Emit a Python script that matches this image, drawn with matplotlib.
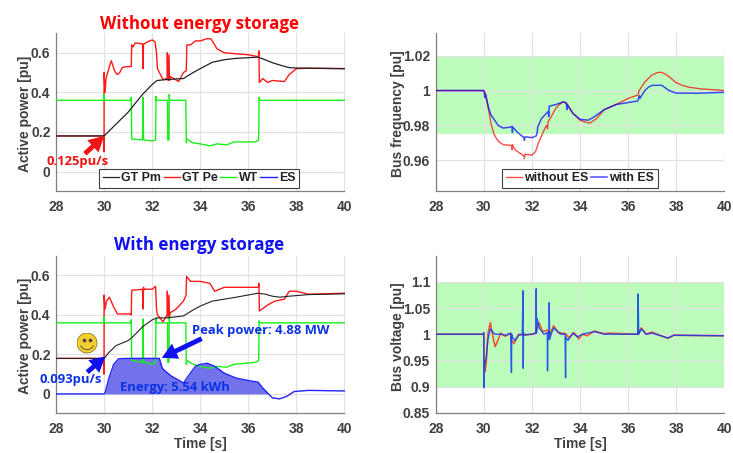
import matplotlib
matplotlib.use("Agg")
import matplotlib.pyplot as plt
from matplotlib.patches import Circle, Arc

W, H = 733, 453
TICK_FONT = "Liberation Sans"
ANN_FONT = "Open Sans"
GRAY = "#404040"

# ---- data: without energy storage (active power) ----
t_pm1 = [28, 30, 30.5, 31, 31.2, 31.6, 32, 32.2, 32.6, 33.3, 33.7, 34, 34.5, 35, 35.5, 36.4, 36.7, 37, 37.4, 37.7, 38, 40]
pm1 = [.18, .18, .24, .30, .33, .39, .44, .46, .465, .47, .50, .52, .552, .565, .572, .578, .565, .55, .535, .525, .523, .52]
t_pe1 = [28, 29.97, 30.0, 30.0, 30.0, 30.04, 30.08, 30.15, 30.22, 30.3, 30.38, 30.45, 30.55, 30.65, 30.75, 30.9, 31.13, 31.15, 31.2, 31.3, 31.6, 31.62, 31.64, 31.66, 31.8, 32, 32.12, 32.18, 32.22, 32.3, 32.45, 32.62, 32.63, 32.66, 32.7, 32.72, 32.74, 32.9, 33.1, 33.3, 33.42, 33.44, 33.6, 33.8, 34, 34.3, 34.45, 34.7, 35, 35.5, 36, 36.42, 36.44, 36.46, 36.6, 36.8, 37, 37.5, 37.7, 38, 38.5, 40]
pe1 = [.18, .18, .10, .36, .50, .40, .47, .50, .53, .56, .53, .505, .49, .50, .525, .53, .53, .64, .63, .65, .645, .52, .64, .645, .655, .665, .655, .60, .52, .50, .465, .47, .60, .46, .59, .46, .48, .47, .455, .50, .51, .64, .64, .66, .66, .672, .67, .62, .60, .595, .59, .58, .61, .45, .47, .45, .46, .455, .49, .52, .522, .52]
t_wt1 = [28, 29.98, 30.0, 30.02, 31.12, 31.13, 31.15, 31.6, 31.62, 31.64, 31.66, 32.0, 32.14, 32.16, 32.18, 32.64, 32.65, 32.68, 32.7, 32.71, 32.73, 33.4, 33.42, 33.44, 33.7, 34, 34.4, 34.7, 35.1, 35.4, 36.3, 36.43, 36.45, 36.47, 36.6, 40]
wt1 = [.36, .36, .39, .36, .36, .375, .165, .16, .375, .17, .16, .155, .16, .38, .36, .36, .16, .16, .16, .39, .36, .36, .145, .165, .145, .14, .13, .14, .135, .15, .15, .16, .375, .36, .36, .36]

# ---- data: with energy storage (active power) ----
t_pm2 = [28, 30, 30.2, 30.5, 31, 31.2, 31.6, 32, 32.2, 32.6, 33.3, 33.7, 34, 34.5, 35, 35.5, 36.4, 36.7, 37, 37.3, 37.7, 38.5, 40]
pm2 = [.18, .18, .21, .245, .27, .29, .34, .375, .385, .385, .395, .425, .445, .47, .48, .49, .51, .505, .495, .49, .495, .503, .507]
t_pe2 = [28, 29.97, 30.0, 30.0, 30.0, 30.04, 30.1, 30.22, 30.4, 30.55, 31.1, 31.13, 31.15, 31.6, 31.62, 31.64, 31.66, 32.0, 32.14, 32.18, 32.22, 32.45, 32.62, 32.63, 32.66, 32.7, 32.72, 32.74, 33.0, 33.3, 33.41, 33.43, 33.6, 34, 34.4, 34.6, 35, 36, 36.42, 36.44, 36.46, 36.8, 37.1, 37.5, 37.7, 38, 38.5, 40]
pe2 = [.18, .18, .10, .40, .50, .43, .47, .49, .44, .405, .405, .40, .525, .53, .43, .54, .53, .53, .545, .43, .40, .365, .40, .52, .39, .50, .39, .41, .43, .47, .50, .595, .57, .57, .56, .52, .54, .54, .54, .56, .42, .45, .47, .48, .52, .52, .505, .51]
t_wt2 = [28, 29.98, 30.0, 30.02, 31.12, 31.13, 31.15, 31.6, 31.62, 31.64, 31.66, 32.0, 32.14, 32.16, 32.18, 32.64, 32.65, 32.68, 32.7, 32.71, 32.73, 33.4, 33.42, 33.44, 33.7, 34, 34.4, 34.7, 35.1, 35.4, 36.3, 36.43, 36.45, 36.47, 36.6, 40]
wt2 = [.36, .36, .39, .36, .36, .375, .17, .16, .38, .17, .16, .15, .16, .385, .36, .36, .16, .16, .16, .39, .36, .36, .15, .17, .15, .14, .13, .14, .135, .15, .16, .17, .37, .36, .36, .36]
t_es = [28, 30, 30.05, 30.2, 30.4, 30.6, 31, 32.3, 32.42, 32.55, 32.8, 33.1, 33.3, 33.5, 33.8, 34.0, 34.3, 34.6, 35, 35.5, 36, 36.4, 36.6, 36.8, 37, 37.3, 37.6, 37.9, 38.5, 40]
es = [0, 0, .01, .08, .15, .178, .18, .18, .13, .115, .09, .07, .055, .09, .14, .15, .155, .14, .105, .08, .068, .06, .03, .005, -.02, -.025, -.012, .012, .018, .015]

# ---- data: bus frequency ----
t_f1 = [28, 30, 30.05, 30.2, 30.3, 30.4, 30.5, 30.6, 30.8, 31.15, 31.17, 31.19, 31.3, 31.67, 31.69, 31.71, 32, 32.15, 32.3, 32.6, 32.65, 32.67, 32.8, 33, 33.15, 33.3, 33.45, 33.7, 34, 34.2, 34.4, 34.7, 35, 35.5, 36, 36.42, 36.44, 36.46, 36.7, 36.85, 37, 37.2, 37.35, 37.5, 37.7, 38, 38.25, 38.5, 39, 40]
f1 = [1, 1, .999, .989, .981, .976, .973, .971, .969, .9685, .966, .969, .966, .9625, .961, .9635, .963, .965, .971, .98, .978, .982, .985, .99, .992, .9935, .9925, .987, .983, .982, .9813, .984, .989, .992, .9955, .9975, .999, 1.0, 1.005, 1.007, 1.009, 1.0102, 1.0105, 1.0098, 1.008, 1.0045, 1.003, 1.002, 1.001, 1.0]
t_f2 = [28, 30, 30.05, 30.07, 30.2, 30.3, 30.4, 30.6, 30.8, 31.1, 31.17, 31.19, 31.21, 31.4, 31.67, 31.69, 31.71, 32, 32.18, 32.22, 32.24, 32.4, 32.68, 32.7, 32.72, 33, 33.3, 33.43, 33.45, 33.47, 33.7, 34, 34.35, 34.6, 35, 35.5, 36.4, 36.47, 36.49, 36.7, 36.85, 37, 37.4, 37.7, 38, 39, 40]
f2 = [1, 1, .996, .998, .99, .986, .984, .98, .9785, .979, .9795, .976, .979, .976, .973, .9715, .9735, .973, .974, .976, .979, .984, .988, .985, .991, .992, .9935, .993, .989, .992, .987, .9835, .983, .985, .989, .992, .994, .997, .9955, 1.0, 1.002, 1.003, 1.003, 1.0, .9985, .9985, .999]

# ---- data: bus voltage ----
t_v1 = [28, 30, 30.02, 30.05, 30.1, 30.17, 30.27, 30.4, 30.47, 30.6, 30.7, 30.9, 31.1, 31.15, 31.25, 31.45, 31.65, 32, 32.15, 32.3, 32.45, 32.65, 32.75, 32.9, 33.1, 33.4, 33.55, 33.75, 33.95, 34.1, 34.3, 34.6, 35, 35.2, 36.4, 36.55, 36.75, 37, 37.2, 37.65, 37.9, 40]
v1 = [1, 1, .94, .928, .945, 1.0, 1.022, .99, .976, .99, 1.002, .996, 1.002, .99, .982, 1.0, .998, 1.0, 1.002, 1.022, 1.005, 1.008, 1.0, 1.016, 1.003, 1.001, .993, 1.003, .991, 1.0, .997, 1.006, 1.001, 1.002, 1.0, 1.012, 1.0, 1.004, 1.0, .992, .998, .997]
t_v2 = [28, 29.98, 30.0, 30.0, 30.03, 30.1, 30.17, 30.27, 30.45, 30.7, 30.9, 31.12, 31.15, 31.16, 31.18, 31.3, 31.45, 31.6, 31.63, 31.64, 31.65, 31.7, 32, 32.17, 32.18, 32.19, 32.22, 32.3, 32.5, 32.64, 32.65, 32.66, 32.71, 32.72, 32.74, 32.8, 32.9, 33.2, 33.38, 33.4, 33.41, 33.5, 33.7, 33.9, 34.1, 34.6, 35, 36.4, 36.42, 36.44, 36.46, 36.55, 36.75, 37, 37.65, 37.9, 40]
v2 = [1, 1, 1.003, .898, .94, .955, .99, 1.01, 1.0, 1.0, .998, 1.002, .927, 1.0, .995, .988, .998, 1.0, 1.083, .935, 1.002, .999, 1.0, 1.002, 1.087, 1.002, 1.03, 1.012, 1.0, 1.003, .93, 1.004, .99, 1.06, .99, 1.0, 1.012, 1.0, 1.0, .917, .995, .988, 1.002, .995, 1.0, 1.005, 1.0, 1.0, 1.077, 1.0, 1.002, 1.01, 1.0, 1.002, .993, .998, .997]

# ---- ticks and labels ----
x_ticks = [28, 30, 32, 34, 36, 38, 40]
p_ticks = [0, .2, .4, .6]
p_labels = ["0", "0.2", "0.4", "0.6"]
f_ticks = [.96, .98, 1, 1.02]
f_labels = ["0.96", "0.98", "1", "1.02"]
v_ticks = [.85, .9, .95, 1, 1.05, 1.1]
v_labels = ["0.85", "0.9", "0.95", "1", "1.05", "1.1"]

BLACK, RED, GREEN, BLUE = "#222222", "#ff1a1a", "#19f019", "#2222ff"
BAND = "#bcfdbc"
TRED, TBLUE = "#f01010", "#0a32e6"


def make_axes(left, right, top, bottom, ylim, ticks, labels, ylabel, ylabel_px, xlabel=None):
    ax = fig.add_axes([left / W, 1 - bottom / H, (right - left) / W, (bottom - top) / H])
    ax.set_xlim(28, 40)
    ax.set_ylim(*ylim)
    ax.set_xticks(x_ticks)
    ax.set_yticks(ticks)
    ax.set_yticklabels(labels)
    ax.grid(True, color="#e2e2e2", lw=0.9)
    ax.set_axisbelow(True)
    for s in ("top", "right"):
        ax.spines[s].set_visible(False)
    for s in ("left", "bottom"):
        ax.spines[s].set_color("#808080")
        ax.spines[s].set_linewidth(0.9)
    ax.tick_params(length=0, labelsize=10, labelcolor=GRAY)
    ax.tick_params(axis="x", pad=6.5)
    ax.tick_params(axis="y", pad=4)
    for lab in ax.get_xticklabels() + ax.get_yticklabels():
        lab.set_fontfamily(TICK_FONT)
        lab.set_fontweight("bold")
    ax.set_ylabel(ylabel, fontfamily=TICK_FONT, fontweight="bold", fontsize=10, color=GRAY, va="center")
    ax.yaxis.set_label_coords((ylabel_px + 2 - left) / (right - left), .5 + (-2 / (bottom - top)))
    if xlabel:
        ax.set_xlabel(xlabel, fontfamily=TICK_FONT, fontweight="bold", fontsize=10, color=GRAY, va="center")
        ax.xaxis.set_label_coords(.5, -(444 - bottom) / (bottom - top))
    return ax


def fat_arrow(ax, tail, tip, color):
    ax.annotate("", xy=tip, xytext=tail, zorder=6,
                arrowprops=dict(facecolor=color, edgecolor=color, width=3.5, headwidth=12,
                                headlength=11, shrink=0, lw=0))


def label(ax, x, y, s, color):
    ax.text(x, y, s, color=color, fontfamily=ANN_FONT, fontweight="bold", fontsize=9.4,
            ha="center", va="center", zorder=7)


def legend(ax, ncol, x_center, spacing):
    leg = ax.legend(loc="lower center", bbox_to_anchor=(x_center, 0.019), ncol=ncol, frameon=True, fancybox=False,
                    edgecolor="#404040", framealpha=1, borderpad=0.3, handlelength=1.3,
                    handletextpad=0.2, columnspacing=spacing, borderaxespad=0,
                    prop=dict(family=TICK_FONT, weight="bold", size=8.9))
    leg.get_frame().set_linewidth(0.8)
    for t in leg.get_texts():
        t.set_color("#222222")


fig = plt.figure(figsize=(W / 100, H / 100), dpi=100)

# top left
ax = make_axes(56, 344.5, 33, 191, (-.098, .7), p_ticks, p_labels, "Active power [pu]", 23)
ax.plot(t_pm1, pm1, color=BLACK, lw=0.9, label="GT Pm", zorder=4)
ax.plot(t_pe1, pe1, color=RED, lw=1.0, label="GT Pe", zorder=3)
ax.plot(t_wt1, wt1, color=GREEN, lw=1.0, label="WT", zorder=3)
ax.plot([], [], color=BLUE, lw=1.0, label="ES")
fat_arrow(ax, (29.2, .09), (30, .18), "#f01515")
label(ax, 28.9, .05, "0.125pu/s", TRED)
legend(ax, 4, .496, 0.2)
ax.text(.497, 1.0, "Without energy storage", transform=ax.transAxes, color="#ff0000",
        fontfamily=ANN_FONT, fontweight="bold", fontsize=12.2, ha="center", va="bottom")

# top right
ax = make_axes(435.7, 724.3, 33, 191, (.9424, 1.033), f_ticks, f_labels, "Bus frequency [pu]", 396)
ax.axhspan(.975, 1.02, color=BAND, lw=0, zorder=0.5)
ax.plot(t_f1, f1, color="#ff0000", alpha=.7, lw=1.0, label="without ES", zorder=3)
ax.plot(t_f2, f2, color="#0000ff", alpha=.7, lw=1.1, label="with ES", zorder=4)
legend(ax, 2, .5, 0.2)

# bottom left
ax = make_axes(56, 344.5, 255.7, 412.7, (-.095, .7), p_ticks, p_labels, "Active power [pu]", 23, "Time [s]")
ax.fill_between(t_es, 0, es, where=[(28.5 < t < 36.9) for t in t_es], color="#7272ea", lw=0, zorder=2, interpolate=True)
ax.plot(t_pm2, pm2, color=BLACK, lw=0.8, zorder=4)
ax.plot(t_pe2, pe2, color=RED, lw=1.0, zorder=3)
ax.plot(t_wt2, wt2, color=GREEN, lw=1.0, zorder=3)
ax.plot(t_es, es, color=BLUE, lw=1.0, zorder=4)
fat_arrow(ax, (29.3, .11), (30.05, .19), "#1010f0")
fat_arrow(ax, (34.06, .28), (32.4, .183), "#1010f0")
label(ax, 28.6, .075, "0.093pu/s", TBLUE)
label(ax, 36.5, .32, "Peak power: 4.88 MW", TBLUE)
label(ax, 32.95, .035, "Energy: 5.54 kWh", TBLUE)
ax.text(.497, 1.01, "With energy storage", transform=ax.transAxes, color="#1010f0",
        fontfamily=ANN_FONT, fontweight="bold", fontsize=12.2, ha="center", va="bottom")

# bottom right
ax = make_axes(435.7, 724.3, 255.7, 412.7, (.85, 1.15), v_ticks, v_labels, "Bus voltage [pu]", 396, "Time [s]")
ax.axhspan(.9, 1.1, color=BAND, lw=0, zorder=0.5)
ax.plot(t_v1, v1, color="#ff2000", alpha=.75, lw=1.2, zorder=3)
ax.plot(t_v2, v2, color="#0a3cf0", alpha=.85, lw=1.0, zorder=4)

# smiley decoration, placed in figure pixels
cx, cy, r = 87 / W, 1 - 343 / H, 10.5
smile = fig.add_axes([cx - r / W, cy - r / H, 2 * r / W, 2 * r / H])
smile.set_xlim(-1.05, 1.05)
smile.set_ylim(-1.05, 1.05)
smile.axis("off")
smile.add_patch(Circle((0, 0), 1, facecolor="#f5cf30", edgecolor="#8a7a20", lw=0.6))
smile.plot([-.33, .33], [.3, .3], ls="none", marker="o", ms=1.6, color="#444444")
smile.add_patch(Arc((0, 0), 1.35, 1.35, theta1=200, theta2=340, color="#444444", lw=0.6))

fig.savefig("out.png", dpi=100)
